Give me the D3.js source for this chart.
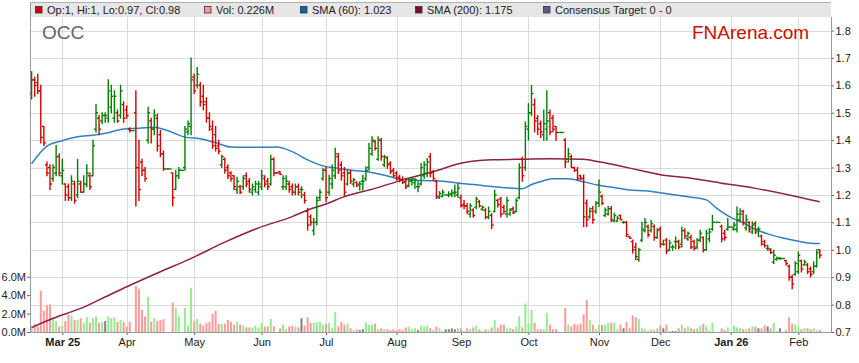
<!DOCTYPE html>
<html><head><meta charset="utf-8">
<script src="https://cdn.jsdelivr.net/npm/d3@7"></script>
<style>
body{margin:0;background:#fff}
svg{display:block;font-family:Arial,"Liberation Sans",sans-serif}
</style>
</head><body>
<svg id="c" width="859" height="363"></svg>
<script>
// ---- DATA (one entry per weekday slot, Feb 17 2025 .. Feb 11 2026) ----
const openP = [
1.57,1.62,1.61,1.58,1.45,1.31,1.30,1.26,1.28,1.34,
1.27,1.24,1.23,1.19,1.24,1.20,1.24,1.21,1.24,1.27,
1.27,1.44,1.48,1.47,1.49,1.48,1.52,1.48,1.50,1.49,
1.53,1.51,1.44,1.435,1.50,1.30,1.32,1.29,1.40,1.47,
1.44,1.48,1.42,1.35,1.295,1.295,1.28,1.22,1.27,1.29,
1.30,1.43,1.45,1.63,1.60,1.60,1.56,1.54,1.48,1.44,
1.42,1.38,1.31,1.33,1.30,1.28,1.27,1.22,1.23,1.23,
1.27,1.25,1.21,1.22,1.21,1.23,1.26,1.25,1.24,1.33,
1.281,1.285,1.23,1.23,1.24,1.23,1.21,1.23,1.22,1.20,
1.14,1.12,1.07,1.10,1.19,1.26,1.29,1.21,1.24,1.27,
1.34,1.31,1.28,1.24,1.28,1.24,1.245,1.24,1.25,1.26,
1.30,1.35,1.395,1.33,1.40,1.31,1.335,1.315,1.29,1.28,
1.265,1.255,1.25,1.235,1.25,1.245,1.23,1.24,1.27,1.28,
1.34,1.285,1.25,1.19,1.195,1.20,1.20,1.205,1.21,1.20,
1.19,1.165,1.16,1.13,1.145,1.155,1.175,1.148,1.145,1.118,
1.125,1.14,1.18,1.185,1.155,1.13,1.13,1.15,1.14,1.19,
1.33,1.30,1.44,1.50,1.53,1.48,1.46,1.42,1.44,1.50,
1.48,1.45,1.428,1.428,1.40,1.33,1.34,1.30,1.29,1.27,
1.26,1.17,1.12,1.15,1.14,1.17,1.195,1.125,1.13,1.15,
1.105,1.105,1.125,1.10,1.10,1.048,1.03,1.01,0.965,1.035,
1.07,1.085,1.07,1.085,1.045,1.075,1.02,1.035,1.00,1.01,
1.03,1.03,1.02,1.07,1.04,1.045,1.03,1.01,1.035,1.045,
1.00,1.04,1.075,1.10,1.10,1.085,1.06,1.075,1.083,1.075,
1.075,1.11,1.14,1.08,1.10,1.065,1.095,1.075,1.05,1.03,
1.005,1.00,0.955,0.965,0.968,0.968,0.96,0.94,0.90,0.91,
0.92,0.96,0.945,0.945,0.93,0.92,0.94,1.00];
const highP = [
1.65,1.63,1.64,1.60,1.45,1.32,1.31,1.31,1.38,1.35,
1.33,1.24,1.24,1.27,1.25,1.33,1.25,1.27,1.31,1.28,
1.40,1.53,1.49,1.50,1.50,1.62,1.60,1.58,1.51,1.60,
1.54,1.525,1.445,1.435,1.58,1.40,1.33,1.30,1.52,1.48,
1.51,1.495,1.435,1.36,1.295,1.295,1.28,1.29,1.30,1.29,
1.45,1.47,1.70,1.64,1.665,1.61,1.60,1.555,1.50,1.47,
1.45,1.40,1.345,1.335,1.31,1.285,1.27,1.265,1.235,1.27,
1.28,1.26,1.24,1.25,1.25,1.29,1.27,1.26,1.345,1.335,
1.281,1.285,1.27,1.27,1.25,1.24,1.24,1.24,1.23,1.21,
1.151,1.127,1.114,1.193,1.22,1.297,1.303,1.272,1.309,1.37,
1.351,1.321,1.30,1.29,1.29,1.26,1.248,1.248,1.272,1.303,
1.388,1.412,1.40,1.412,1.406,1.345,1.339,1.321,1.297,1.285,
1.272,1.266,1.26,1.26,1.262,1.26,1.248,1.315,1.321,1.333,
1.351,1.29,1.254,1.212,1.218,1.20,1.212,1.218,1.236,1.241,
1.20,1.18,1.168,1.168,1.15,1.192,1.18,1.16,1.15,1.156,
1.132,1.217,1.185,1.192,1.162,1.192,1.15,1.156,1.186,1.314,
1.338,1.466,1.533,1.60,1.55,1.49,1.47,1.51,1.58,1.51,
1.49,1.45,1.428,1.428,1.405,1.37,1.345,1.30,1.30,1.272,
1.273,1.182,1.152,1.158,1.176,1.255,1.20,1.152,1.158,1.158,
1.133,1.121,1.127,1.103,1.103,1.048,1.036,1.024,1.006,1.10,
1.114,1.09,1.108,1.09,1.077,1.083,1.035,1.041,1.035,1.017,
1.047,1.035,1.083,1.077,1.065,1.053,1.035,1.041,1.071,1.047,
1.071,1.077,1.126,1.10,1.10,1.09,1.071,1.114,1.083,1.10,
1.156,1.15,1.144,1.126,1.102,1.102,1.102,1.083,1.053,1.035,
1.017,1.004,0.998,0.974,0.972,0.968,0.962,0.944,0.907,0.956,
0.992,0.962,0.962,0.95,0.937,0.956,1.00,1.00];
const lowP = [
1.55,1.56,1.57,1.39,1.38,1.27,1.22,1.25,1.27,1.27,
1.24,1.18,1.18,1.18,1.17,1.19,1.21,1.21,1.23,1.22,
1.27,1.43,1.42,1.46,1.465,1.465,1.50,1.465,1.465,1.48,
1.465,1.48,1.43,1.435,1.16,1.18,1.27,1.25,1.39,1.39,
1.42,1.36,1.34,1.29,1.295,1.295,1.16,1.22,1.26,1.29,
1.29,1.42,1.42,1.57,1.59,1.525,1.51,1.465,1.435,1.37,
1.36,1.35,1.30,1.28,1.26,1.25,1.22,1.205,1.205,1.22,
1.23,1.21,1.20,1.21,1.20,1.22,1.23,1.22,1.235,1.27,
1.28,1.275,1.22,1.22,1.21,1.20,1.20,1.20,1.19,1.17,
1.072,1.09,1.054,1.09,1.18,1.254,1.175,1.20,1.224,1.26,
1.278,1.254,1.195,1.236,1.242,1.23,1.23,1.218,1.218,1.254,
1.29,1.345,1.364,1.327,1.327,1.303,1.297,1.278,1.266,1.254,
1.248,1.242,1.224,1.23,1.236,1.224,1.212,1.236,1.26,1.266,
1.266,1.254,1.187,1.187,1.193,1.20,1.193,1.193,1.193,1.192,
1.156,1.15,1.132,1.12,1.12,1.15,1.156,1.144,1.113,1.113,
1.077,1.138,1.156,1.12,1.132,1.12,1.126,1.132,1.138,1.186,
1.25,1.29,1.40,1.49,1.43,1.42,1.41,1.40,1.40,1.42,
1.43,1.40,1.428,1.428,1.30,1.32,1.30,1.285,1.253,1.255,
1.085,1.085,1.115,1.097,1.133,1.158,1.164,1.121,1.127,1.103,
1.103,1.103,1.109,1.097,1.048,1.042,0.988,0.964,0.958,1.03,
1.065,1.047,1.065,1.035,1.041,1.01,1.017,0.986,0.998,0.998,
1.004,1.004,1.01,1.041,1.035,1.004,0.998,1.004,1.029,0.992,
0.998,1.029,1.071,1.10,1.10,1.029,1.035,1.071,1.083,1.071,
1.065,1.102,1.09,1.071,1.065,1.059,1.059,1.047,1.017,1.01,
0.998,0.986,0.95,0.962,0.965,0.968,0.944,0.889,0.858,0.907,
0.913,0.919,0.944,0.913,0.901,0.913,0.937,0.97];
const closeP = [
1.62,1.60,1.58,1.41,1.39,1.28,1.24,1.30,1.34,1.28,
1.29,1.20,1.19,1.25,1.18,1.25,1.21,1.24,1.28,1.23,
1.38,1.50,1.44,1.49,1.49,1.58,1.56,1.56,1.47,1.58,
1.48,1.49,1.435,1.435,1.30,1.22,1.29,1.26,1.50,1.44,
1.49,1.38,1.35,1.295,1.295,1.295,1.19,1.27,1.29,1.29,
1.44,1.46,1.62,1.58,1.64,1.54,1.53,1.48,1.45,1.38,
1.37,1.36,1.34,1.29,1.27,1.26,1.23,1.25,1.21,1.26,
1.24,1.22,1.23,1.24,1.24,1.27,1.24,1.23,1.33,1.28,
1.28,1.275,1.26,1.25,1.22,1.21,1.23,1.21,1.22,1.18,
1.09,1.10,1.10,1.18,1.21,1.29,1.19,1.26,1.29,1.35,
1.29,1.27,1.21,1.28,1.25,1.255,1.235,1.24,1.25,1.29,
1.37,1.40,1.37,1.40,1.34,1.34,1.31,1.285,1.27,1.26,
1.255,1.245,1.23,1.255,1.258,1.255,1.23,1.30,1.31,1.32,
1.28,1.26,1.195,1.205,1.21,1.20,1.20,1.205,1.21,1.225,
1.16,1.16,1.14,1.16,1.125,1.185,1.16,1.155,1.12,1.14,
1.09,1.20,1.165,1.13,1.14,1.18,1.145,1.135,1.18,1.30,
1.27,1.45,1.50,1.57,1.47,1.44,1.43,1.46,1.47,1.43,
1.44,1.428,1.428,1.428,1.32,1.35,1.30,1.29,1.26,1.26,
1.12,1.11,1.14,1.11,1.17,1.21,1.17,1.145,1.15,1.11,
1.125,1.115,1.11,1.10,1.055,1.042,1.00,0.975,1.00,1.075,
1.10,1.055,1.095,1.045,1.07,1.02,1.02,0.995,1.025,1.01,
1.03,1.01,1.07,1.05,1.06,1.01,1.005,1.035,1.06,1.00,
1.06,1.065,1.10,1.10,1.10,1.04,1.045,1.083,1.083,1.09,
1.13,1.13,1.10,1.11,1.075,1.09,1.065,1.075,1.02,1.015,
1.005,0.99,0.98,0.97,0.968,0.968,0.95,0.90,0.875,0.95,
0.98,0.93,0.955,0.92,0.91,0.94,0.99,0.98];
const volumeM = [
0.7,0.9,0.6,4.5,2.3,2.9,3.0,1.5,1.2,0.6,
0.7,1.2,1.9,1.8,1.3,1.3,1.5,1.0,1.6,1.0,
1.5,1.7,1.0,1.1,1.2,1.7,1.5,1.6,1.1,1.3,
1.1,0.6,1.1,0,5.0,4.7,2.4,1.7,3.8,1.1,
1.5,1.2,1.3,1.4,0,0,3.2,2.6,1.7,0,
2.6,0.7,4.8,1.2,1.4,0.9,0.7,1.0,1.1,2.0,
2.3,0.9,0.9,0.9,1.3,1.1,0.8,1.1,0.8,0.7,
0.5,0.5,0.5,0.7,0.5,1.0,0.6,0.6,1.4,0.6,
0,0.4,0.8,0.3,0.6,0.7,0.6,0.5,1.5,0.7,
1.6,1.0,1.0,1.1,1.1,0.8,0.9,1.0,0.4,2.2,
0.6,1.1,0.8,0.9,0.4,0.2,0.3,0.2,0.3,1.0,
0.8,0.8,0.9,0.3,0.4,0.3,0.3,0.2,0.3,0.2,
0.3,0.2,0.5,0.6,0.3,0.4,0.2,0.7,0.6,0.7,
0.4,0.2,0.6,0.4,0.1,0.3,0.3,0.4,0.3,0.4,
0.4,0.1,0.4,0.3,0.5,0.7,0.3,0.1,0.3,0.2,
0.5,1.3,0.5,0.8,0.8,0.4,0.4,0.3,0.6,1.7,
0.5,3.1,0.9,2.4,1.0,0.3,0.3,0.3,2.1,0.8,
0.3,0.3,0,0,2.6,0.8,0.6,0.9,0.8,0.9,
1.9,3.5,1.3,0.8,0.3,0.8,0.8,0.8,1.0,1.0,
1.0,0.3,0.8,0.4,1.1,0.4,1.8,1.6,1.4,0.4,
0.3,0.1,0.3,0.2,0.4,0.7,0.4,0.8,0.1,0.1,
0.1,0.4,0.8,0.4,0.6,0.4,0.3,0.4,0.7,0.9,
0.6,0.2,1.0,0,0,0.4,0.2,0.5,0,0.7,
0.5,0.4,0.3,0.3,0.4,0.6,0.6,0.4,0.4,0.7,
0.6,0.4,1.0,0.1,0.4,0,0.2,1.6,0.9,0.8,
0.6,0.3,0.4,0.4,0.3,0.4,0.2,0.226];

const sma60Slots = [0,5,10,15,20,25,30,35,40,44,50,55,60,65,70,75,80,85,90,95,100,105,110,115,120,125,130,135,140,145,150,155,160,163,167,170,175,180,185,190,195,200,205,210,215,220,223,228,232,236,240,245,250,254,257];
const sma60 = [1.314,1.378,1.398,1.412,1.418,1.427,1.441,1.443,1.447,1.436,1.411,1.405,1.391,1.375,1.374,1.374,1.375,1.358,1.328,1.306,1.297,1.289,1.284,1.272,1.258,1.254,1.252,1.249,1.242,1.237,1.231,1.226,1.223,1.238,1.252,1.259,1.259,1.248,1.235,1.227,1.218,1.215,1.208,1.200,1.192,1.182,1.155,1.118,1.098,1.075,1.058,1.043,1.031,1.024,1.023];
const sma200Slots = [0,7,16,22,31,42,51,63,74,85,90,96,102,112,121,131,140,150,158,169,180,185,193,199,205,215,225,236,247,257];
const sma200 = [0.716,0.75,0.786,0.817,0.865,0.92,0.963,1.028,1.08,1.121,1.145,1.167,1.194,1.224,1.255,1.285,1.316,1.328,1.33,1.332,1.33,1.321,1.303,1.288,1.274,1.261,1.243,1.224,1.20,1.175];

const tickSlots = [10,31,53,75,96,119,140,162,185,205,228,250];
const tickLabels = ["Mar 25","Apr","May","Jun","Jul","Aug","Sep","Oct","Nov","Dec","Jan 26","Feb"];
const priceTicks = [0.7,0.8,0.9,1.0,1.1,1.2,1.3,1.4,1.5,1.6,1.7,1.8];
const volTicks = [0,2,4,6];
const legendLabels = ["Op:1, Hi:1, Lo:0.97, Cl:0.98","Vol: 0.226M","SMA (60): 1.023","SMA (200): 1.175","Consensus Target: 0 - 0"];
const legendColors = ["#cc0000","#ff9999","#0a64a4","#7a0f2e","#5c5c8c"];

// ---- CHART ----
const L = 30, R = 831, T = 17, B = 332;
const svg = d3.select("#c");
const n = closeP.length;
const x = d3.scaleLinear().domain([0, n - 1]).range([31.6, 819.8]);
const y = d3.scaleLinear().domain([0.7, 1.8]).range([B, 30.5]);
const yv = d3.scaleLinear().domain([0, 6]).range([B, 276.7]);

// legend bar
svg.append("rect").attr("x", L).attr("y", 2.5).attr("width", R - L).attr("height", T - 2.5).attr("fill", "#e6e6e6");
svg.append("line").attr("x1", L).attr("x2", R).attr("y1", 2.5).attr("y2", 2.5).attr("stroke", "#b0b0b0");

// grid
svg.append("g").selectAll("line").data(priceTicks.filter(t => t > 0.7)).join("line")
  .attr("x1", L).attr("x2", R).attr("y1", d => Math.round(y(d)) + 0.5).attr("y2", d => Math.round(y(d)) + 0.5)
  .attr("stroke", "#dadada");
svg.append("g").selectAll("line").data(tickSlots).join("line")
  .attr("x1", d => Math.round(x(d)) + 0.5).attr("x2", d => Math.round(x(d)) + 0.5).attr("y1", T).attr("y2", B)
  .attr("stroke", "#dadada");

// titles
svg.append("text").attr("x", 42).attr("y", 39).attr("font-size", 19).attr("fill", "#666").text("OCC");
svg.append("text").attr("x", 692).attr("y", 39).attr("font-size", 19).attr("fill", "#cc1100").text("FNArena.com");

// legend
const legX = [35, 204, 300, 415, 543];
legendLabels.forEach((t, i) => {
  svg.append("rect").attr("x", legX[i] + 0.5).attr("y", 6.5).attr("width", 6.5).attr("height", 6.5)
    .attr("fill", legendColors[i]).attr("stroke", "#333").attr("stroke-width", 0.8);
  svg.append("text").attr("x", legX[i] + 12).attr("y", 14).attr("font-size", 11).attr("fill", "#222").text(t);
});

// volume bars
const dirOf = i => closeP[i] > openP[i] ? 1 : (closeP[i] < openP[i] ? -1 : 0);
svg.append("g").selectAll("rect").data(d3.range(n).filter(i => volumeM[i] > 0)).join("rect")
  .attr("x", i => x(i) - 1).attr("width", 2)
  .attr("y", i => yv(volumeM[i])).attr("height", i => B - yv(volumeM[i]))
  .attr("fill", i => { const d = dirOf(i); return d > 0 ? "#92ee8e" : d < 0 ? "#ff9a9a" : "#808080"; });

// SMA lines
const line = d3.line().x(d => x(d[0])).y(d => y(d[1])).curve(d3.curveMonotoneX);
svg.append("path").datum(sma200Slots.map((s, i) => [s, sma200[i]]))
  .attr("d", line).attr("fill", "none").attr("stroke", "#8c2246").attr("stroke-width", 1.5);
svg.append("path").datum(sma60Slots.map((s, i) => [s, sma60[i]]))
  .attr("d", line).attr("fill", "none").attr("stroke", "#2f80c2").attr("stroke-width", 1.5);

// OHLC bars
const gb = svg.append("g").attr("stroke-width", 1.4);
d3.range(n).forEach(i => {
  const col = dirOf(i) < 0 ? "#d40000" : "#008000";
  const cx = x(i);
  if (highP[i] > lowP[i]) gb.append("line").attr("x1", cx).attr("x2", cx).attr("y1", y(highP[i]) - 0.5).attr("y2", y(lowP[i]) + 0.5).attr("stroke", col);
  gb.append("line").attr("x1", cx - 2).attr("x2", cx).attr("y1", y(openP[i])).attr("y2", y(openP[i])).attr("stroke", col);
  gb.append("line").attr("x1", cx).attr("x2", cx + 2).attr("y1", y(closeP[i])).attr("y2", y(closeP[i])).attr("stroke", col);
});

// axes
const styleAxis = g => {
  g.select(".domain").remove();
  g.selectAll(".tick line").attr("stroke", "#666");
  g.selectAll(".tick text").attr("fill", "#222").attr("font-size", 11).attr("font-family", 'Arial,"Liberation Sans",sans-serif');
};
svg.append("g").attr("transform", `translate(${R},0)`)
  .call(d3.axisRight(y).tickValues(priceTicks).tickSize(3).tickPadding(1.5).tickFormat(d3.format(".1f"))).call(styleAxis);
svg.append("g").attr("transform", `translate(${L},0)`)
  .call(d3.axisLeft(yv).tickValues(volTicks).tickSize(3).tickPadding(1).tickFormat(d => d3.format(".1f")(d) + "M")).call(styleAxis);
const gx = svg.append("g").attr("transform", `translate(0,${B})`)
  .call(d3.axisBottom(x).tickValues(tickSlots).tickSize(3).tickPadding(3).tickFormat((d, i) => tickLabels[i])).call(styleAxis);
gx.selectAll(".tick text").attr("font-weight", (d, i) => tickLabels[i].includes(" ") ? "bold" : "normal");

// frame lines
svg.append("line").attr("x1", L + 0.5).attr("x2", L + 0.5).attr("y1", 2.5).attr("y2", B + 0.5).attr("stroke", "#999");
svg.append("line").attr("x1", R + 0.5).attr("x2", R + 0.5).attr("y1", T).attr("y2", B + 0.5).attr("stroke", "#999");
svg.append("line").attr("x1", L).attr("x2", R + 1).attr("y1", B + 0.5).attr("y2", B + 0.5).attr("stroke", "#999");
</script>
</body></html>
